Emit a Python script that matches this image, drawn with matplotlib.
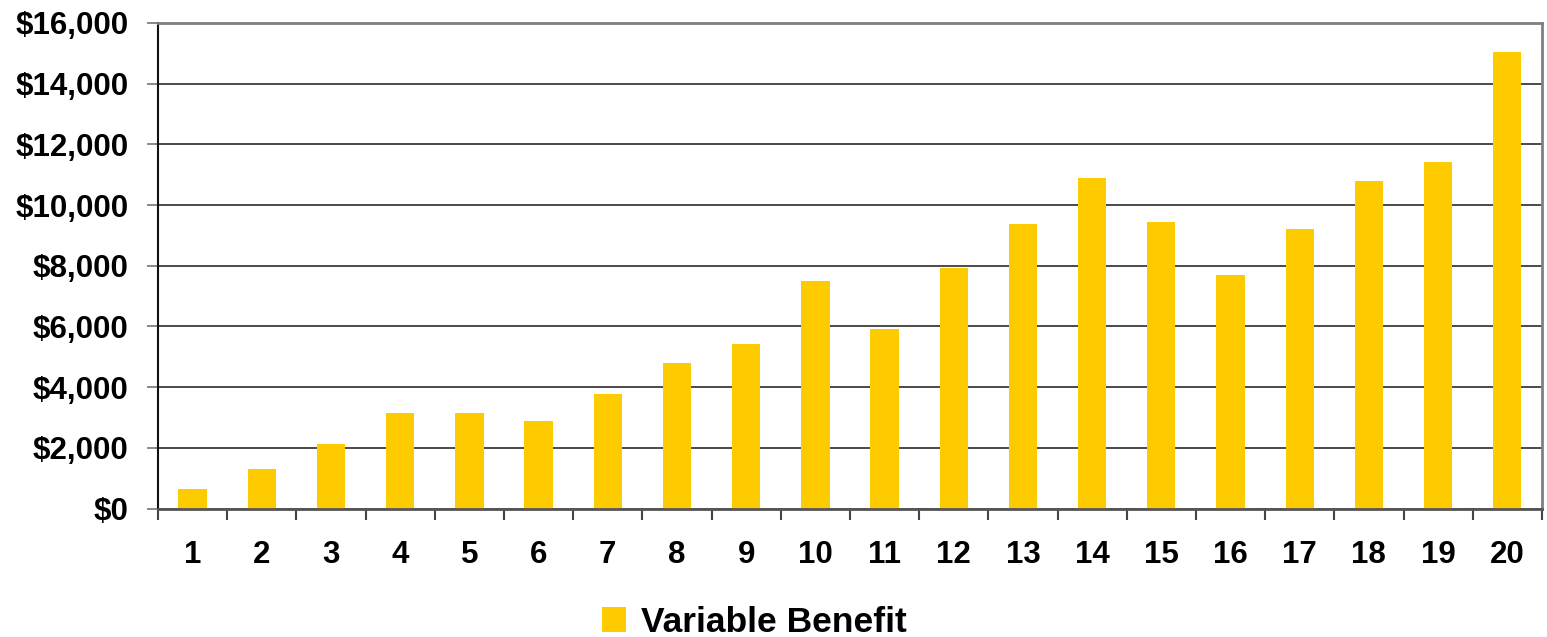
"""Variable benefit by year, bar chart."""

import matplotlib

matplotlib.use("Agg")

import matplotlib.pyplot as plt
from matplotlib.patches import Patch
from matplotlib.ticker import FuncFormatter, MultipleLocator

years = list(range(1, 21))
variable_benefit = [
    630, 1290, 2110, 3150, 3150, 2890, 3780, 4800, 5430, 7500,
    5920, 7940, 9390, 10900, 9450, 7700, 9220, 10800, 11420, 15030,
]
series_label = "Variable Benefit"

BAR_COLOR = "#FECB00"
GRID_COLOR = "#2b2b2b"
FRAME_COLOR = "#808080"

plt.rcParams["font.family"] = ["Liberation Sans", "DejaVu Sans"]
plt.rcParams["font.weight"] = "bold"

fig = plt.figure(figsize=(15.47, 6.37), dpi=100)
ax = fig.add_axes([0.1021, 0.2017, 0.8946, 0.7622])

ax.bar(years, variable_benefit, width=0.41, color=BAR_COLOR, zorder=3)

ax.set_xlim(0.5, 20.5)
ax.set_ylim(0, 16000)

# y axis: dollar labels every 2,000 with horizontal gridlines
ax.yaxis.set_major_locator(MultipleLocator(2000))
ax.yaxis.set_major_formatter(FuncFormatter(lambda v, _: f"${v:,.0f}"))
ax.grid(axis="y", color=GRID_COLOR, linewidth=1.2, zorder=1)
ax.tick_params(axis="y", length=8, width=1.3, color=FRAME_COLOR,
               pad=13, labelsize=22.5)

# x axis: labels at bar centres, tick marks between categories
ax.set_xticks(years)
ax.set_xticklabels([str(y) for y in years])
ax.set_xticks([y + 0.5 for y in [0] + years], minor=True)
ax.tick_params(axis="x", which="major", length=0, pad=23, labelsize=22.5)
ax.tick_params(axis="x", which="minor", length=8, width=1.5, color="#444444")

for label in ax.get_xticklabels() + ax.get_yticklabels():
    label.set_fontweight("bold")

ax.spines["left"].set_color("#111111")
ax.spines["left"].set_linewidth(1.5)
ax.spines["bottom"].set_color("#555555")
ax.spines["bottom"].set_linewidth(2)
ax.spines["top"].set_color(FRAME_COLOR)
ax.spines["top"].set_linewidth(2)
ax.spines["right"].set_color(FRAME_COLOR)
ax.spines["right"].set_linewidth(2)
for side in ("left", "bottom", "top", "right"):
    ax.spines[side].set_zorder(4)

handle = Patch(facecolor=BAR_COLOR, edgecolor="none", label=series_label)
fig.legend(
    handles=[handle],
    loc="center",
    bbox_to_anchor=(754 / 1547, 1 - 622 / 637),
    frameon=False,
    prop={"size": 25.5, "weight": "bold"},
    handlelength=0.7,
    handleheight=0.7,
    handletextpad=0.4,
)

fig.savefig("out.png", dpi=100)
plt.close(fig)
